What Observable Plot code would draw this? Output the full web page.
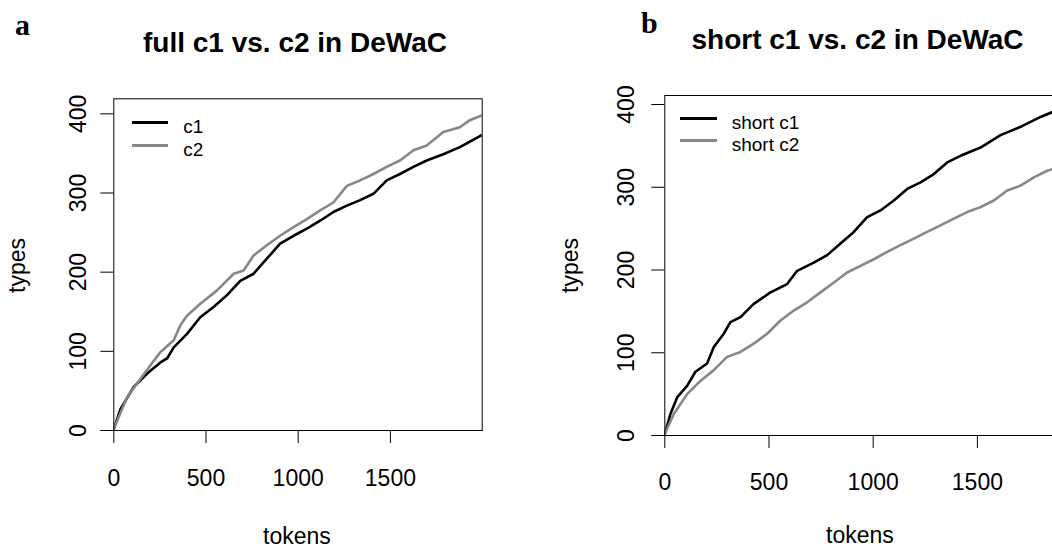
<!DOCTYPE html>
<html><head><meta charset="utf-8">
<script src="https://cdn.jsdelivr.net/npm/d3@7"></script>
<script src="https://cdn.jsdelivr.net/npm/@observablehq/plot@0.6"></script>
<style>
html,body{margin:0;padding:0;background:#fff;overflow:hidden;width:1052px;height:547px;}
body{position:relative;font-family:"Liberation Sans",Arial,sans-serif;color:#000;}
.abs{position:absolute;white-space:nowrap;line-height:1;}
.title{font-weight:bold;font-size:28px;width:500px;text-align:center;}
.tag{font-family:"Liberation Serif","Times New Roman",serif;font-weight:bold;font-size:30px;}
.axl{font-size:23px;width:300px;text-align:center;}
.axlx{font-size:23px;width:300px;text-align:center;line-height:18px;height:18px;}
.leg{font-size:19px;}
.sw{height:3px;}
svg{overflow:visible;}
</style></head><body>
<script>
// ---- data ----
const xTicks = [0, 500, 1000, 1500];
const yTicks = [0, 100, 200, 300, 400];

// panel a: full c1 vs. c2
const tokensA_c1 = [0, 36, 108, 181, 253, 289, 325, 397, 469, 541, 614, 686, 758, 830, 902, 975, 1047, 1119, 1191, 1264, 1336, 1408, 1480, 1552, 1625, 1697, 1787, 1877, 1995];
const typesA_c1  = [2, 27, 55, 72, 86, 91, 105, 122, 143, 156, 171, 189, 198, 217, 236, 246, 255, 265, 276, 284, 291, 299, 316, 324, 333, 341, 349, 358, 373];
const tokensA_c2 = [0, 27, 72, 144, 217, 253, 325, 361, 397, 469, 560, 650, 704, 758, 830, 902, 975, 1047, 1119, 1191, 1264, 1336, 1408, 1480, 1552, 1625, 1697, 1787, 1877, 1931, 1995];
const typesA_c2  = [2, 17, 42, 65, 88, 99, 114, 133, 145, 160, 177, 198, 202, 221, 234, 246, 257, 267, 278, 288, 309, 316, 324, 333, 341, 354, 360, 377, 383, 392, 398];

// panel b: short c1 vs. c2
const tokensB_c1 = [0, 27, 59, 107, 147, 203, 235, 283, 315, 363, 427, 507, 587, 635, 715, 779, 843, 907, 971, 1035, 1099, 1163, 1227, 1291, 1355, 1419, 1515, 1611, 1707, 1803, 1861];
const typesB_c1  = [2, 26, 46, 60, 77, 87, 107, 123, 137, 143, 159, 173, 183, 199, 209, 218, 232, 246, 264, 272, 284, 298, 306, 316, 330, 338, 348, 363, 373, 385, 391];
const tokensB_c2 = [0, 43, 107, 171, 235, 299, 363, 427, 491, 555, 619, 683, 747, 811, 875, 939, 1003, 1067, 1131, 1195, 1259, 1323, 1387, 1451, 1515, 1579, 1643, 1707, 1771, 1835, 1861];
const typesB_c2  = [2, 26, 50, 66, 79, 95, 101, 111, 123, 139, 151, 161, 173, 185, 197, 205, 213, 222, 230, 238, 246, 254, 262, 270, 276, 284, 296, 302, 312, 320, 322];

const titles = ["full c1 vs. c2 in DeWaC", "short c1 vs. c2 in DeWaC"];
const tags = ["a", "b"];
const legendA = ["c1", "c2"];
const legendB = ["short c1", "short c2"];
const xLabel = "tokens";
const yLabel = "types";

const BLACK = "#000000", GRAY = "#878787";

function rows(xs, ys) { return xs.map((x, i) => ({tokens: x, types: ys[i]})); }

function panel(cfg) {
  return Plot.plot({
    width: cfg.width, height: cfg.height,
    marginLeft: cfg.ml, marginRight: cfg.mr, marginTop: cfg.mt, marginBottom: cfg.mb,
    x: {domain: cfg.xdom},
    y: {domain: cfg.ydom},
    style: {fontFamily: "'Liberation Sans', Arial, sans-serif", fontSize: "23px", color: "#000", background: "transparent", overflow: "visible"},
    marks: [
      Plot.line(cfg.s1, {x: "tokens", y: "types", stroke: BLACK, strokeWidth: 2.6, clip: true}),
      Plot.line(cfg.s2, {x: "tokens", y: "types", stroke: GRAY, strokeWidth: 2.6, clip: true}),
      Plot.frame({stroke: "#000", strokeWidth: 1}),
      Plot.axisX({ticks: xTicks, tickSize: 13, tickPadding: cfg.xpad, label: null, tickFormat: d => String(d)}),
      Plot.axisY({ticks: yTicks, tickSize: 13, tickPadding: cfg.ypad, tickRotate: -90, label: null, tickFormat: d => String(d)})
    ]
  });
}

function place(el, left, top) {
  el.style.position = "absolute"; el.style.left = left + "px"; el.style.top = top + "px";
  document.body.appendChild(el);
}
function txt(cls, text, left, top, extra) {
  const d = document.createElement("div");
  d.className = "abs " + cls; d.textContent = text;
  d.style.left = left + "px"; d.style.top = top + "px";
  if (extra) Object.assign(d.style, extra);
  document.body.appendChild(d);
  return d;
}

const A = panel({width: 526, height: 467, ml: 113.3, mr: 44.3, mt: 18.3, mb: 117,
  xdom: [0, 1998], ydom: [0, 419], s1: rows(tokensA_c1, typesA_c1), s2: rows(tokensA_c2, typesA_c2), xpad: 26, ypad: 15});
place(A, 0, 80);

const B = panel({width: 538, height: 467, ml: 138.3, mr: 10, mt: 15, mb: 112,
  xdom: [0, 1870], ydom: [0, 410.9], s1: rows(tokensB_c1, typesB_c1), s2: rows(tokensB_c2, typesB_c2), xpad: 25, ypad: 18});
place(B, 526, 80);

// titles & tags
txt("title", titles[0], 295 - 250, 29.3);
txt("title", titles[1], 857.5 - 250, 26.3);
txt("tag", tags[0], 15, 10);
txt("tag", tags[1], 641, 8);

// axis labels
txt("axlx", xLabel, 297 - 150, 526.5);
txt("axlx", xLabel, 860 - 150, 525.5);
txt("axl", yLabel, 17 - 150, 265 - 11.5, {transform: "rotate(-90deg)", transformOrigin: "50% 50%"});
txt("axl", yLabel, 570 - 150, 265 - 11.5, {transform: "rotate(-90deg)", transformOrigin: "50% 50%"});

// legends
function legend(labels, lineLeft, ys, textLeft) {
  const cols = [BLACK, GRAY];
  labels.forEach((lab, i) => {
    const sw = document.createElement("div");
    sw.className = "abs sw";
    Object.assign(sw.style, {left: lineLeft + "px", top: (ys[i] - 1.5) + "px", width: "36.6px", background: cols[i]});
    document.body.appendChild(sw);
    txt("leg", lab, textLeft, ys[i] + 10.5 - 16.1);
  });
}
legend(legendA, 131.7, [122.7, 145.7], 183.3);
legend(legendB, 680, [118.3, 140.7], 731.7);
</script>
</body></html>
